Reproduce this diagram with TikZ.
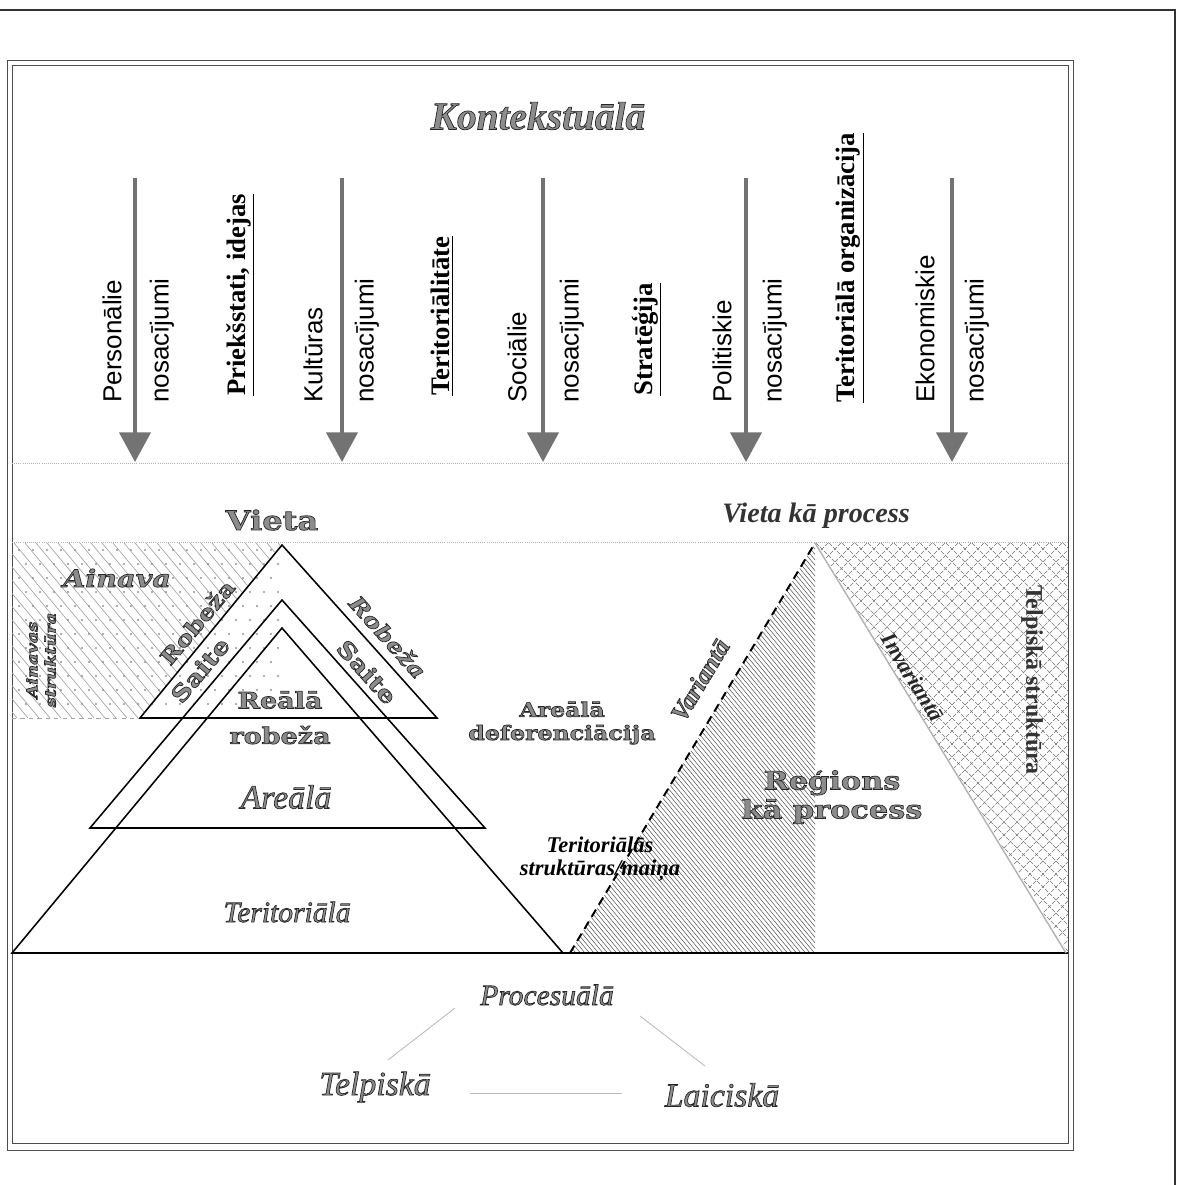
\documentclass[tikz,border=0pt]{standalone}
\usepackage{fontspec}
\setmainfont{Liberation Serif}
\newfontfamily\condsans{Liberation Sans}
\newfontfamily\bookfont[FakeStretch=1.2]{DejaVu Serif}
\usetikzlibrary{arrows.meta}
\newcommand\fsz[2]{\fontsize{#1}{#2}\selectfont}
\newcommand\shtext[1]{\special{pdf:literal direct 0.55 g 0.15 G 2 Tr 0.5 w}#1\special{pdf:literal direct 0 Tr 0 g 0 G}}

\begin{document}
\begin{tikzpicture}[x=0.025cm, y=-0.025cm, >=Latex,
    every node/.style={inner sep=0pt, align=center},
    cond/.style={rotate=90, anchor=west, font=\condsans\fsz{18.5}{22}},
    keyword/.style={rotate=90, anchor=west, font=\bfseries\fsz{19}{22}},
    flow/.style={-{Triangle[width=22pt,length=21pt]}, line width=2.8pt, black!55},
    tri/.style={line width=1.1pt},
    faint/.style={gray!60, line width=0.5pt, densely dotted},
    bookbold/.style={font=\bookfont\bfseries\fsz{16}{19}},
    serifital/.style={font=\itshape\fsz{24}{28}},
    link/.style={gray!55, line width=0.6pt}]
  \useasboundingbox (0,0) rectangle (1179,1185);

  % frames
  \draw[line width=0.8pt, black!80] (0,10) -- (1175,10) -- (1175,1185);
  \draw[line width=0.5pt, black!70] (7,60) rectangle (1073,1150);
  \draw[line width=0.5pt, black!70] (12,65) rectangle (1068,1143);
  \draw[faint] (12,463) -- (1068,463);
  \draw[faint] (12,542) -- (1068,542);

  % contextual conditions
  \node[font=\bfseries\itshape\fsz{28}{30}] (kont) at (538,116) {\shtext{Kontekstuālā}};
  \foreach \x [count=\i] in {135,342,543,746,952} {
    \coordinate (top\i) at (\x,178);
    \coordinate (tip\i) at (\x,462);
    \draw[flow] (top\i) -- (tip\i);
  }
  \node[cond] (pers) at (112,403) {Personālie};
  \node[cond] (nos1) at (162,403) {nosacījumi};
  \node[keyword] (idej) at (240,396) {\underline{Priekšstati, idejas}};
  \node[cond] (kult) at (313,403) {Kultūras};
  \node[cond] (nos2) at (367,403) {nosacījumi};
  \node[keyword] (terit) at (442,396) {\underline{Teritoriālitāte}};
  \node[cond] (soc) at (517,403) {Sociālie};
  \node[cond] (nos3) at (572,403) {nosacījumi};
  \node[keyword] (strat) at (647,396) {\underline{Stratēģija}};
  \node[cond] (pol) at (722,403) {Politiskie};
  \node[cond] (nos4) at (775,403) {nosacījumi};
  \node[keyword] (org) at (850,403) {\underline{Teritoriālā organizācija}};
  \node[cond] (ekon) at (925,403) {Ekonomiskie};
  \node[cond] (nos5) at (977,403) {nosacījumi};

  % pyramid corners
  \coordinate (Atop) at (282,545);  \coordinate (Aleft) at (140,718); \coordinate (Aright) at (437,718);
  \coordinate (Btop) at (282,600);  \coordinate (Bleft) at (90,828);  \coordinate (Bright) at (485,828);
  \coordinate (Ctop) at (282,628);  \coordinate (Cleft) at (12,953);  \coordinate (Cright) at (563,953);
  \coordinate (Rtop) at (815,543);  \coordinate (Rleft) at (570,953); \coordinate (Rmid) at (815,953);
  \coordinate (Rright) at (1066,953);

  % landscape area: hatch and dots
  \begin{scope}
    \clip (12,543) -- (282,543) -- (Aleft) -- (12,718) -- cycle;
    \foreach \s in {-140,-129,...,290}
      \draw[gray!75, line width=0.45pt] (\s,543) -- ++(146,175);
  \end{scope}
  \foreach \xx in {19,33,...,280}
    \foreach \yy in {550,578,...,712}
      \fill[gray!85] (\xx,\yy) circle[radius=0.8pt];
  \foreach \xx in {26,40,...,280}
    \foreach \yy in {564,592,...,712}
      \fill[gray!85] (\xx,\yy) circle[radius=0.8pt];
  \draw[gray!70, dashed, line width=0.6pt] (12,718) -- (Aleft);

  % process side: hatch and crosshatch
  \begin{scope}
    \clip (Rleft) -- (Rtop) -- (Rmid) -- cycle;
    \foreach \s in {225,229.5,...,820}
      \draw[black!70, line width=0.35pt] (\s,543) -- ++(342,410);
  \end{scope}
  \begin{scope}
    \clip (Rtop) -- (1068,543) -- (1068,953) -- cycle;
    \foreach \s in {400,413,...,1070}
      \draw[black!55, line width=0.45pt, dash pattern=on 3pt off 1pt] (\s,543) -- ++(410,410);
    \foreach \s in {815,828,...,1490}
      \draw[black!55, line width=0.45pt, dash pattern=on 3pt off 1pt] (\s,543) -- ++(-410,410);
  \end{scope}

  % outlines
  \draw[tri] (Atop) -- (Aright) -- (Aleft) -- cycle;
  \draw[tri] (Btop) -- (Bright) -- (Bleft) -- cycle;
  \draw[tri] (Ctop) -- (Cright) -- (Cleft) -- cycle;
  \draw[line width=1.2pt] (Cleft) -- (1068,953);
  \draw[gray!60, line width=1pt] (Rtop) -- (Rright);
  \draw[line width=1.4pt, dash pattern=on 6pt off 4pt] (Rleft) -- (Rtop);

  % labels of the place
  \node[bookbold, font=\bookfont\bfseries\fsz{19}{22}] (vieta) at (272,520) {\shtext{Vieta}};
  \node[font=\bfseries\itshape\fsz{20}{24}, black!80] (vproc) at (816,516) {Vieta kā process};
  \node[bookbold, font=\bookfont\bfseries\itshape\fsz{17}{20}] (ainava) at (117,578) {\shtext{Ainava}};
  \node[rotate=90, font=\bookfont\bfseries\itshape\fsz{10.5}{13}] (ainstr) at (41,660) {\shtext{Ainavas}\\\shtext{struktūra}};
  \node[bookbold, font=\bookfont\bfseries\fsz{15}{18}, rotate=50] (robL) at (197,622) {\shtext{Robeža}};
  \node[bookbold, rotate=50] (saiteL) at (200,670) {\shtext{Saite}};
  \node[bookbold, font=\bookfont\bfseries\itshape\fsz{15}{18}, rotate=-48] (robR) at (388,637) {\shtext{Robeža}};
  \node[bookbold, rotate=-48] (saiteR) at (367,672) {\shtext{Saite}};
  \node[bookbold] (reala) at (280,700) {\shtext{Reālā}};
  \node[bookbold] (robeza) at (280,735) {\shtext{robeža}};
  \node[serifital] (areala) at (286,797) {\shtext{Areālā}};
  \node[serifital, font=\itshape\fsz{21}{24}] (terala) at (287,912) {\shtext{Teritoriālā}};
  \node[bookbold, font=\bookfont\bfseries\fsz{14}{16.5}] (areadef) at (562,723) {\shtext{Areālā}\\\shtext{deferenciācija}};
  \node[font=\bfseries\itshape\fsz{16}{16}] (struk) at (600,859) {Teritoriālās\\struktūras/maiņa};
  \node[font=\bfseries\itshape\fsz{18}{20}, rotate=59] (var) at (700,680) {\shtext{Variantā}};
  \node[font=\bfseries\itshape\fsz{16}{18}, rotate=-58.6, black!85] (invar) at (913,677) {Invariantā};
  \node[font=\bfseries\fsz{17}{20}, rotate=-90, black!80] (telpstr) at (1032,680) {Telpiskā struktūra};
  \node[bookbold, font=\bookfont\bfseries\fsz{18}{20.5}] (region) at (832,797) {\shtext{Reģions}\\\shtext{kā process}};

  % processual triad
  \node[serifital, font=\itshape\fsz{21}{24}] (proc) at (547,995) {\shtext{Procesuālā}};
  \node[serifital] (telp) at (375,1087) {\shtext{Telpiskā}};
  \node[serifital] (laic) at (722,1095) {\shtext{Laiciskā}};
  \coordinate (pl1) at (455,1008); \coordinate (pl2) at (388,1060);
  \coordinate (pr1) at (640,1016); \coordinate (pr2) at (705,1066);
  \coordinate (pb1) at (470,1093); \coordinate (pb2) at (622,1093);
  \draw[link] (pl1) -- (pl2);
  \draw[link] (pr1) -- (pr2);
  \draw[link] (pb1) -- (pb2);
\end{tikzpicture}
\end{document}
